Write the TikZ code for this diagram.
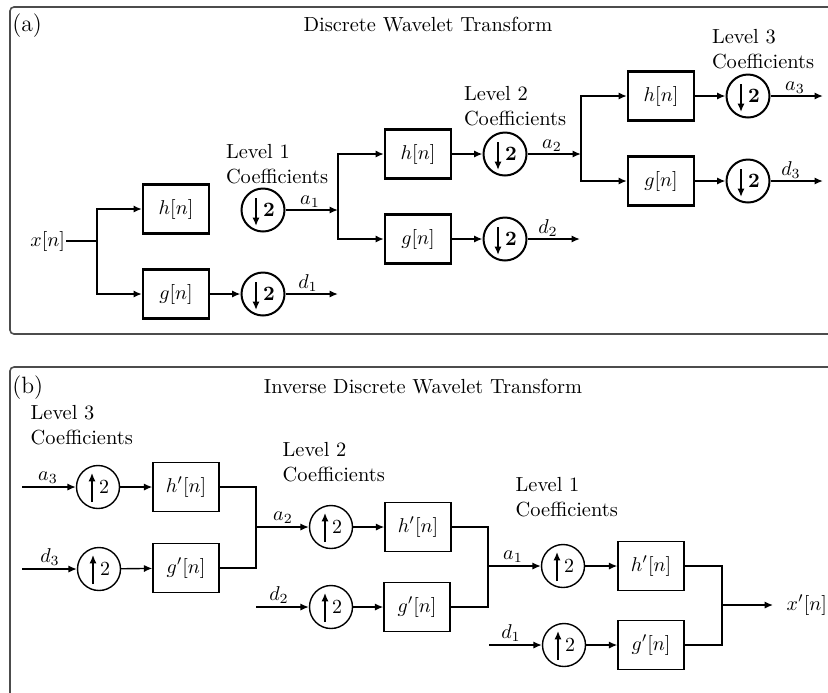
\documentclass[tikz,border=0pt]{standalone}
\usetikzlibrary{arrows.meta}
\begin{document}
\begin{tikzpicture}[x=0.5pt,y=-0.5pt,
  every node/.style={font=\fontsize{10.2}{12.5}\selectfont},
  panel/.style={draw=black!70,line width=0.8pt,rounded corners=2pt},
  plabel/.style={anchor=base west,inner sep=0pt,font=\fontsize{11.8}{14}\selectfont},
  arr/.style={-{Latex[length=4.2pt,width=3.6pt]}},
  boxa/.style={draw,line width=1.1pt,minimum width=33pt,minimum height=24.5pt,inner sep=0pt},
  boxb/.style={draw,line width=0.7pt,minimum width=33pt,minimum height=24.5pt,inner sep=0pt},
  dn/.style={circle,draw,line width=1pt,minimum size=21.5pt,inner sep=0pt,
    path picture={\draw[line width=1pt,arr] ([shift={(-7,-12)}]path picture bounding box.center) -- ([shift={(-7,16)}]path picture bounding box.center);}},
  up/.style={circle,draw,line width=0.7pt,minimum size=21.5pt,inner sep=0pt,
    path picture={\draw[line width=0.7pt,arr] ([shift={(-6,15)}]path picture bounding box.center) -- ([shift={(-6,-14)}]path picture bounding box.center);}},
  lvl/.style={anchor=north west,inner sep=0pt,align=left},
  lab/.style={anchor=base,inner sep=0pt}
]
\useasboundingbox (0,0) rectangle (828,692);
\clip (0,0) rectangle (828,692);

% ---------------- panel (a)
\draw[panel] (10,7) rectangle (845,334);
\node[plabel] (pa) at (12,31) {(a)};
\node[anchor=base,inner sep=0pt] (ta) at (428,31) {Discrete Wavelet Transform};

\begin{scope}[line width=1pt]
\node[anchor=east,inner sep=0pt] (x) at (66,241) {$x[n]$};
\coordinate (j0) at (97,241);
\node[boxa] (h1) at (176,209) {$h[n]$};
\node[boxa] (g1) at (176,294) {$g[n]$};
\node[dn] (c1a) at (263,210) {\hspace{6pt}\textbf{2}};
\node[dn] (c1d) at (263,294) {\hspace{6pt}\textbf{2}};
\coordinate (j1) at (338,210);
\coordinate (e1) at (338,294);
\node[lvl] (l1a) at (225,143) {Level 1\\Coefficients};
\node[lab] (la1) at (310,204) {$a_1$};
\node[lab] (ld1) at (308,288) {$d_1$};

\draw (x.east) -- (j0);
\draw[arr] (j0) |- (h1.west);
\draw[arr] (j0) |- (g1.west);
\draw[arr] (g1) -- (c1d);
\draw[arr] (c1a) -- (j1);
\draw[arr] (c1d) -- (e1);

\node[boxa] (h2) at (418,154) {$h[n]$};
\node[boxa] (g2) at (418,239) {$g[n]$};
\node[dn] (c2a) at (505,154) {\hspace{6pt}\textbf{2}};
\node[dn] (c2d) at (505,239) {\hspace{6pt}\textbf{2}};
\coordinate (j2) at (581,154);
\coordinate (e2) at (580,239);
\node[lvl] (l2a) at (463,85) {Level 2\\Coefficients};
\node[lab] (la2) at (552,148) {$a_2$};
\node[lab] (ld2) at (548,233) {$d_2$};

\draw[arr] (j1) |- (h2.west);
\draw[arr] (j1) |- (g2.west);
\draw[arr] (h2) -- (c2a);
\draw[arr] (g2) -- (c2d);
\draw[arr] (c2a) -- (j2);
\draw[arr] (c2d) -- (e2);

\node[boxa] (h3) at (661,96) {$h[n]$};
\node[boxa] (g3) at (661,181) {$g[n]$};
\node[dn] (c3a) at (748,96) {\hspace{6pt}\textbf{2}};
\node[dn] (c3d) at (748,181) {\hspace{6pt}\textbf{2}};
\coordinate (e3a) at (823,96);
\coordinate (e3d) at (823,181);
\node[lvl] (l3a) at (711,28) {Level 3\\Coefficients};
\node[lab] (la3) at (795,90) {$a_3$};
\node[lab] (ld3) at (791,175) {$d_3$};

\draw[arr] (j2) |- (h3.west);
\draw[arr] (j2) |- (g3.west);
\draw[arr] (h3) -- (c3a);
\draw[arr] (g3) -- (c3d);
\draw[arr] (c3a) -- (e3a);
\draw[arr] (c3d) -- (e3d);
\end{scope}

% ---------------- panel (b)
\draw[panel] (10,367) rectangle (845,710);
\node[plabel] (pb) at (12,393) {(b)};
\node[anchor=base,inner sep=0pt] (tb) at (423,393) {Inverse Discrete Wavelet Transform};

\begin{scope}[line width=0.7pt]
\node[lvl] (l3b) at (30,405) {Level 3\\Coefficients};
\coordinate (s3a) at (22,487);
\coordinate (s3d) at (22,569);
\node[up] (u3a) at (98,487) {\hspace{6pt}$2$};
\node[up] (u3d) at (99,569) {\hspace{6pt}$2$};
\node[boxb] (hp3) at (186,487) {$h'[n]$};
\node[boxb] (gp3) at (186,568) {$g'[n]$};
\node[lab] (lb3a) at (48,480) {$a_3$};
\node[lab] (lb3d) at (50,562) {$d_3$};
\coordinate (k2) at (256,527);
\draw[arr] (s3a) -- (u3a);
\draw[arr] (s3d) -- (u3d);
\draw[arr] (u3a) -- (hp3);
\draw[arr] (u3d) -- (gp3);
\draw (hp3.east) -| (k2);
\draw (gp3.east) -| (k2);

\node[lvl] (l2b) at (282,442) {Level 2\\Coefficients};
\node[up] (u2a) at (331,527) {\hspace{6pt}$2$};
\coordinate (s2d) at (256,607);
\node[up] (u2d) at (331,607) {\hspace{6pt}$2$};
\node[boxb] (hp2) at (418,527) {$h'[n]$};
\node[boxb] (gp2) at (417,607) {$g'[n]$};
\node[lab] (lb2a) at (283,520) {$a_2$};
\node[lab] (lb2d) at (279,600) {$d_2$};
\coordinate (k1) at (488,566);
\draw[arr] (k2) -- (u2a);
\draw[arr] (s2d) -- (u2d);
\draw[arr] (u2a) -- (hp2);
\draw[arr] (u2d) -- (gp2);
\draw (hp2.east) -| (k1);
\draw (gp2.east) -| (k1);

\node[lvl] (l1b) at (515,477) {Level 1\\Coefficients};
\node[up] (u1a) at (563,566) {\hspace{6pt}$2$};
\coordinate (s1d) at (489,645);
\node[up] (u1d) at (564,645) {\hspace{6pt}$2$};
\node[boxb] (hp1) at (651,566) {$h'[n]$};
\node[boxb] (gp1) at (651,645) {$g'[n]$};
\node[lab] (lb1a) at (513,559) {$a_1$};
\node[lab] (lb1d) at (511,638) {$d_1$};
\coordinate (k0) at (722,605);
\node[anchor=west,inner sep=0pt] (xo) at (786,605) {$x'[n]$};
\draw[arr] (k1) -- (u1a);
\draw[arr] (s1d) -- (u1d);
\draw[arr] (u1a) -- (hp1);
\draw[arr] (u1d) -- (gp1);
\draw (hp1.east) -| (k0);
\draw (gp1.east) -| (k0);
\draw[arr] (k0) -- ([xshift=-6.5pt]xo.west);
\end{scope}
\end{tikzpicture}
\end{document}
